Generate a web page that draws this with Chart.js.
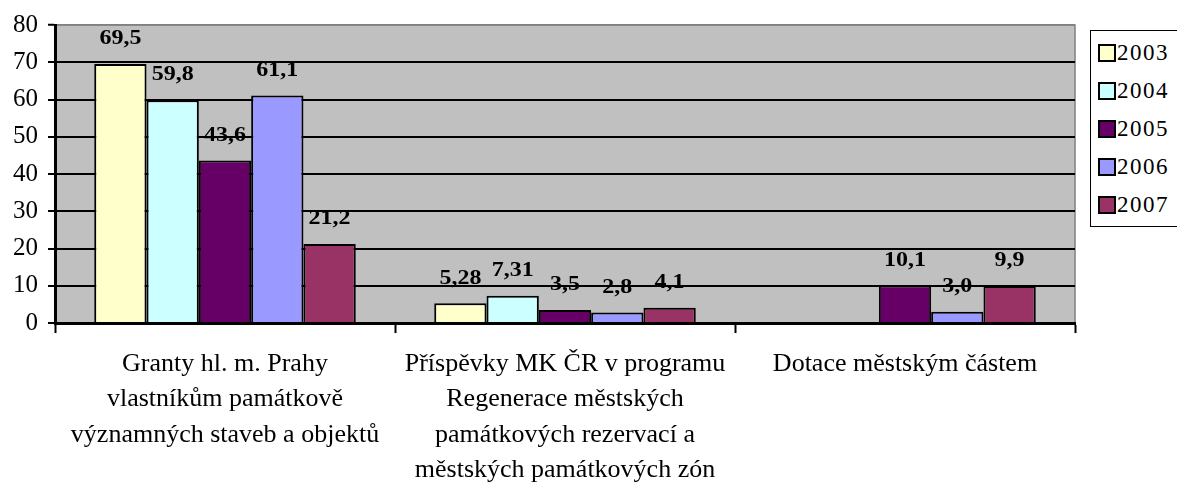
<!DOCTYPE html>
<html lang="cs">
<head>
<meta charset="utf-8">
<title>Granty a příspěvky 2003–2007</title>
<script src="https://cdn.jsdelivr.net/npm/chart.js@4.4.0/dist/chart.umd.min.js"></script>
<style>
  html, body { margin: 0; padding: 0; background: #fff; }
  #wrap { position: relative; width: 1177px; height: 484px; overflow: hidden; }
  #legend {
    position: absolute; left: 1090px; top: 30px; width: 110px; height: 197px;
    border: 1.5px solid #000; background: #fff; box-sizing: border-box;
    font-family: "Liberation Serif", "Times New Roman", serif; font-size: 23px; color: #000;
  }
  .item { position: absolute; left: 7px; height: 24px; display: flex; align-items: center; }
  .item .sw { width: 14px; height: 14px; border: 2px solid #000; margin-right: 1px; }
  .item span { letter-spacing: 1.5px; }
</style>
</head>
<body>
<div id="wrap">
  <canvas id="chart" width="1177" height="484"></canvas>
  <div id="legend"></div>
</div>
<script>
// kategorie (víceřádkové popisky osy x)
const categories = [
    ['Granty hl. m. Prahy', 'vlastníkům památkově', 'významných staveb a objektů'],
    ['Příspěvky MK ČR v programu', 'Regenerace městských', 'památkových rezervací a', 'městských památkových zón'],
    ['Dotace městským částem']
];
const years = ['2003', '2004', '2005', '2006', '2007'];
const colors = ['#FFFFCC', '#CCFFFF', '#660066', '#9999FF', '#993366'];

// hodnoty po letech (pořadí podle kategorií)
const values2003 = [69.5, 5.28, null];
const values2004 = [59.8, 7.31, null];
const values2005 = [43.6, 3.5, 10.1];
const values2006 = [61.1, 2.8, 3.0];
const values2007 = [21.2, 4.1, 9.9];
const series = [values2003, values2004, values2005, values2006, values2007];

const yMax = 80;
const yStep = 10;

const serif = '"Liberation Serif", "Times New Roman", serif';

function formatValue(v) {
    const twoDecimals = Math.abs(Math.round(v * 10) - v * 10) > 1e-9;
    return v.toFixed(twoDecimals ? 2 : 1).replace('.', ',');
}

// šedé pozadí plochy grafu
const plotBackground = {
    id: 'plotBackground',
    beforeDraw(chart) {
        const { ctx, chartArea: a } = chart;
        ctx.save();
        ctx.fillStyle = '#C0C0C0';
        ctx.fillRect(a.left, a.top, a.right - a.left, a.bottom - a.top);
        ctx.strokeStyle = '#808080';
        ctx.lineWidth = 1.5;
        ctx.beginPath();
        ctx.moveTo(a.left, a.top);
        ctx.lineTo(a.right, a.top);
        ctx.lineTo(a.right, a.bottom);
        ctx.stroke();
        ctx.restore();
    }
};

// popisky hodnot nad sloupci
const valueLabels = {
    id: 'valueLabels',
    afterDatasetsDraw(chart) {
        const ctx = chart.ctx;
        chart.data.datasets.forEach((ds, i) => {
            chart.getDatasetMeta(i).data.forEach((bar, j) => {
                const v = ds.data[j];
                if (v == null) return;
                ctx.save();
                ctx.translate(bar.x, bar.y - 25);
                ctx.scale(1.2, 1);
                ctx.font = 'bold 20px ' + serif;
                ctx.fillStyle = '#000';
                ctx.textAlign = 'center';
                ctx.textBaseline = 'middle';
                ctx.fillText(formatValue(v), 0, 0);
                ctx.restore();
            });
        });
    }
};

new Chart(document.getElementById('chart'), {
    type: 'bar',
    data: {
        labels: categories,
        datasets: years.map((y, i) => ({
            label: y,
            data: series[i],
            backgroundColor: colors[i],
            borderColor: '#000',
            borderWidth: 2,
            barPercentage: 1,
            categoryPercentage: 5 / 6.5
        }))
    },
    options: {
        responsive: false,
        animation: false,
        layout: { padding: { left: 0, right: 102, top: 18, bottom: 0 } },
        plugins: {
            legend: { display: false },
            tooltip: { enabled: false }
        },
        scales: {
            x: {
                offset: true,
                grid: {
                    offset: true,
                    drawOnChartArea: false,
                    drawTicks: true,
                    tickLength: 10,
                    tickColor: '#000',
                    tickWidth: 2
                },
                border: { display: true, color: '#000', width: 3 },
                ticks: {
                    color: '#000',
                    font: { family: serif, size: 26, lineHeight: 1.35 },
                    padding: 14,
                    maxRotation: 0,
                    autoSkip: false
                },
                afterFit(scale) { scale.height = 161; }
            },
            y: {
                min: 0,
                max: yMax,
                ticks: {
                    stepSize: yStep,
                    color: '#000',
                    font: { family: serif, size: 25 },
                    padding: 10
                },
                grid: {
                    color: (c) => (c.tick && c.tick.value === yMax ? '#808080' : '#000'),
                    lineWidth: (c) => (c.tick && c.tick.value === yMax ? 1.5 : 2),
                    tickLength: 7,
                    tickColor: '#000',
                    tickWidth: 2
                },
                border: { display: true, color: '#000', width: 3 },
                afterFit(scale) { scale.width = 55; }
            }
        }
    },
    plugins: [plotBackground, valueLabels]
});

// legenda vpravo
const legend = document.getElementById('legend');
years.forEach((y, i) => {
    const item = document.createElement('div');
    item.className = 'item';
    item.style.top = (10 + i * 38) + 'px';
    const sw = document.createElement('div');
    sw.className = 'sw';
    sw.style.background = colors[i];
    const txt = document.createElement('span');
    txt.textContent = y;
    item.appendChild(sw);
    item.appendChild(txt);
    legend.appendChild(item);
});
</script>
</body>
</html>
